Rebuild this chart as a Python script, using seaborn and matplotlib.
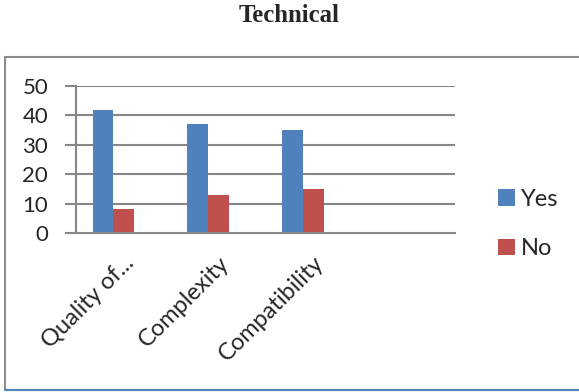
import matplotlib
matplotlib.use("Agg")
import matplotlib.pyplot as plt
import seaborn as sns
import pandas as pd
from matplotlib.patches import Rectangle, Patch

categories = ["Quality of...", "Complexity", "Compatibility"]
yes_values = [42, 37, 35]
no_values = [8, 13, 15]
series_names = ["Yes", "No"]
colors = ["#4F81BD", "#C0504D"]
y_ticks = [0, 10, 20, 30, 40, 50]

sns.set_style("white")
plt.rcParams["font.family"] = ["Lato", "DejaVu Sans"]

df = pd.DataFrame({
    "category": categories * 2,
    "value": yes_values + no_values,
    "series": [series_names[0]] * len(categories) + [series_names[1]] * len(categories),
})

fig = plt.figure(figsize=(5.79, 3.92), dpi=100)
ax = fig.add_axes([76 / 579, 1 - 233 / 392, (455 - 76) / 579, (233 - 86) / 392])

sns.barplot(data=df, x="category", y="value", hue="series", order=categories,
            hue_order=series_names, palette=colors, width=0.44, gap=0,
            saturation=1, ax=ax, legend=False, edgecolor="none")

grid_color = "#868686"
# bar groups sit slightly left of the slot centres
shift = 0.105
ax.set_xlim(-0.5 + shift, 3.5 + shift)
ax.set_ylim(0, 50)
ax.set_yticks(y_ticks)
ax.set_yticklabels([str(v) for v in y_ticks], fontsize=16)
for v in y_ticks[1:]:
    ax.axhline(v, color=grid_color, lw=1.5, zorder=0)

# category labels at slot centres, tick marks at slot boundaries
ax.set_xticks([i + shift for i in range(len(categories))])
ax.set_xticklabels(categories, rotation=45, ha="right", rotation_mode="anchor", fontsize=17)
ax.tick_params(axis="x", length=0, pad=14)
ax.set_xticks([b + shift for b in [-0.5, 0.5, 1.5, 2.5, 3.5]], minor=True)
ax.tick_params(axis="x", which="minor", length=8, width=1.5, color=grid_color)
ax.tick_params(axis="y", length=8, width=1.5, color=grid_color, pad=12, left=True)
ax.set_xlabel("")
ax.set_ylabel("")

for side in ["top", "right"]:
    ax.spines[side].set_visible(False)
for side in ["left", "bottom"]:
    ax.spines[side].set_color(grid_color)
    ax.spines[side].set_linewidth(1.5)

handles = [Patch(facecolor=c, edgecolor="none") for c in colors]
fig.legend(handles, series_names, loc="center left",
           bbox_to_anchor=(477 / 579, 1 - 224 / 392), frameon=False,
           fontsize=17, handlelength=0.7, handleheight=0.7, handletextpad=0.25,
           labelspacing=1.2)

# outer chart frame
fig.add_artist(Rectangle((5 / 579, 2 / 392), 1.2, (390 - 57) / 392,
                         transform=fig.transFigure, fill=False,
                         edgecolor="#8C8C8C", lw=1.5))
fig.add_artist(plt.Line2D([5 / 579, 1], [2 / 392, 2 / 392], transform=fig.transFigure,
                          color="#4F81BD", lw=1.5))

fig.text(0.5, 1 - 16 / 392, "Technical", ha="center", va="center",
         fontsize=17.8, fontweight="bold", family="Liberation Serif")

fig.savefig("out.png", dpi=100)
